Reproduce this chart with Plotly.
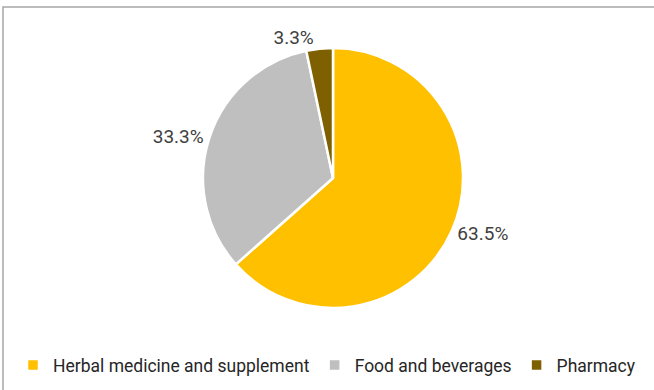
import plotly.graph_objects as go

categories = ["Herbal medicine and supplement", "Food and beverages", "Pharmacy"]
values = [63.5, 33.3, 3.3]
colors = ["#FFC000", "#BFBFBF", "#7F6000"]

W, H = 654, 390
cx, cy, r = 333, 178, 130
FONT = "Roboto, sans-serif"

fig = go.Figure(go.Pie(
    labels=categories,
    values=values,
    sort=False,
    direction="clockwise",
    rotation=0,
    marker=dict(colors=colors, line=dict(color="white", width=2.5)),
    textinfo="text",
    text=[f"{v:.1f}%" for v in values],
    textposition="outside",
    outsidetextfont=dict(family=FONT, size=19, color="#404040"),
    domain=dict(x=[(cx - r) / W, (cx + r) / W],
                y=[(H - cy - r) / H, (H - cy + r) / H]),
    hoverinfo="label+percent",
))

fig.update_layout(
    width=W, height=H,
    margin=dict(l=0, r=0, t=0, b=0, autoexpand=False),
    paper_bgcolor="white",
    font=dict(family=FONT, size=18, color="#262626"),
    showlegend=True,
    legend=dict(orientation="h", x=0.5, xanchor="center", y=25 / H, yanchor="middle",
                font=dict(family=FONT, size=17.5, color="#262626"), itemwidth=30),
    shapes=[dict(type="rect", xref="paper", yref="paper",
                 x0=3 / W, x1=1.05, y0=-0.05, y1=1 - 7 / H,
                 line=dict(color="#A6A6A6", width=1.5), fillcolor="rgba(0,0,0,0)")],
)

fig.write_html("out.html", config={"displayModeBar": False},
               post_script="document.body.style.margin='0';document.body.style.overflow='hidden';")
